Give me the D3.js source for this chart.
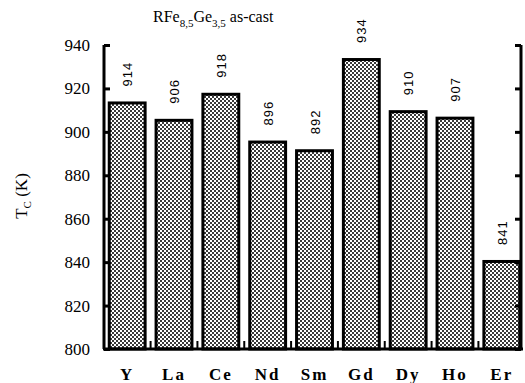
<!DOCTYPE html>
<html>
<head>
<meta charset="utf-8">
<script src="https://cdn.jsdelivr.net/npm/d3@7"></script>
<style>
  body { margin: 0; background: #fff; }
  svg { display: block; }
  text.serif { font-family: "Liberation Serif", "Times New Roman", serif; }
  text.tick-label { font-size: 17px; }
  text.cat-label { font-size: 17px; font-weight: bold; letter-spacing: 2px; }
  text.val-label { font-family: "Liberation Sans", Arial, sans-serif; font-size: 13px; letter-spacing: 1px; }
</style>
</head>
<body>
<svg id="chart" width="525" height="383"></svg>
<script>
const elements = ["Y", "La", "Ce", "Nd", "Sm", "Gd", "Dy", "Ho", "Er"];
const curieTemps = [914, 906, 918, 896, 892, 934, 910, 907, 841];
const yTicks = [800, 820, 840, 860, 880, 900, 920, 940];

const chartSize = { width: 525, height: 383 };
const margin = { left: 104, right: 0, top: 45, bottom: 34 };
const plotRight = 525;
const plotBottom = chartSize.height - margin.bottom;

const svg = d3.select("#chart");

// dotted fill like the printed screen tone
const pat = svg.append("defs").append("pattern")
  .attr("id", "dots")
  .attr("width", 4).attr("height", 4)
  .attr("patternUnits", "userSpaceOnUse");
pat.append("rect").attr("width", 4).attr("height", 4).attr("fill", "#fff");
pat.append("rect").attr("x", 0).attr("y", 0).attr("width", 2).attr("height", 2).attr("fill", "#3a3a3a");
pat.append("rect").attr("x", 2).attr("y", 2).attr("width", 2).attr("height", 2).attr("fill", "#3a3a3a");

const x = d3.scaleBand()
  .domain(elements)
  .range([margin.left, plotRight])
  .paddingInner(0.17)
  .paddingOuter(0.08);

const y = d3.scaleLinear()
  .domain([800, 940])
  .range([plotBottom, margin.top]);

// bars
svg.append("g")
  .selectAll("rect")
  .data(elements)
  .join("rect")
  .attr("x", d => x(d) + 1.5)
  .attr("y", (d, i) => y(curieTemps[i]) + 1.5)
  .attr("width", x.bandwidth() - 3)
  .attr("height", (d, i) => plotBottom - y(curieTemps[i]) - 1.5)
  .attr("fill", "url(#dots)")
  .attr("stroke", "#000")
  .attr("stroke-width", 3);

// value labels, rotated
svg.append("g")
  .selectAll("text")
  .data(elements)
  .join("text")
  .attr("class", "val-label")
  .attr("transform", (d, i) =>
    `translate(${x(d) + x.bandwidth() / 2 + 5},${y(curieTemps[i]) - 15}) rotate(-90)`)
  .text((d, i) => curieTemps[i]);

// left axis
const yAxis = d3.axisRight(y).tickValues(yTicks).tickSize(6).tickFormat("");
const gy = svg.append("g")
  .attr("transform", `translate(${margin.left},0)`)
  .call(yAxis);
gy.select(".domain").attr("stroke-width", 3).attr("d", `M0,${margin.top}V${plotBottom}`);
gy.selectAll(".tick line").attr("stroke-width", 3);

// right axis
const yAxisR = d3.axisLeft(y).tickValues(yTicks).tickSize(6).tickFormat("");
const gyr = svg.append("g")
  .attr("transform", `translate(${plotRight - 4},0)`)
  .call(yAxisR);
gyr.select(".domain").attr("stroke-width", 3).attr("d", `M0,${margin.top}V${plotBottom}`);
gyr.selectAll(".tick line").attr("stroke-width", 3);

// y tick labels
svg.append("g")
  .selectAll("text")
  .data(yTicks)
  .join("text")
  .attr("class", "serif tick-label")
  .attr("x", 90)
  .attr("y", d => y(d) + 6)
  .attr("text-anchor", "end")
  .text(d => d);

// bottom axis with ticks between bars
const boundaries = elements.slice(1).map(d => x(d) - x.step() * x.paddingInner() / 2);
svg.append("line")
  .attr("x1", margin.left - 1).attr("x2", plotRight - 2)
  .attr("y1", plotBottom).attr("y2", plotBottom)
  .attr("stroke", "#000").attr("stroke-width", 3);
svg.append("g")
  .selectAll("line")
  .data(boundaries)
  .join("line")
  .attr("x1", d => d).attr("x2", d => d)
  .attr("y1", plotBottom).attr("y2", plotBottom - 8)
  .attr("stroke", "#000").attr("stroke-width", 2);

// category labels
svg.append("g")
  .selectAll("text")
  .data(elements)
  .join("text")
  .attr("class", "serif cat-label")
  .attr("x", d => x(d) + x.bandwidth() / 2)
  .attr("y", 380)
  .attr("text-anchor", "middle")
  .text(d => d);

// title
const title = svg.append("text")
  .attr("class", "serif")
  .attr("x", 153).attr("y", 22)
  .attr("font-size", 16);
title.append("tspan").text("RFe");
title.append("tspan").attr("font-size", 11).attr("dy", 5).text("8,5");
title.append("tspan").attr("dy", -5).text("Ge");
title.append("tspan").attr("font-size", 11).attr("dy", 5).text("3,5");
title.append("tspan").attr("dy", -5).text(" as-cast");

// y axis label
const yl = svg.append("text")
  .attr("class", "serif")
  .attr("transform", "translate(27,196) rotate(-90)")
  .attr("text-anchor", "middle")
  .attr("font-size", 17);
yl.append("tspan").text("T");
yl.append("tspan").attr("font-size", 11).attr("dy", 4).text("C");
yl.append("tspan").attr("dy", -4).text(" (K)");
</script>
</body>
</html>
